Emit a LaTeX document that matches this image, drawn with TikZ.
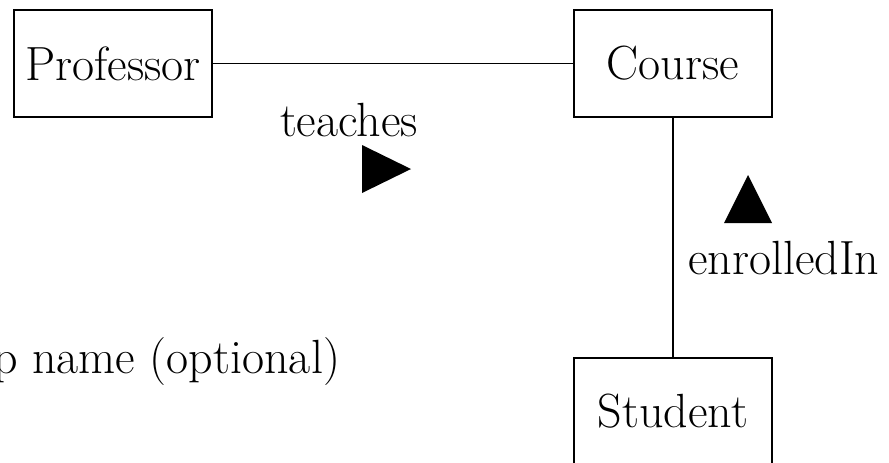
\documentclass[tikz,border=0pt]{standalone}
\begin{document}
\begin{tikzpicture}[x=0.5pt,y=-0.5pt,
  every node/.style={inner sep=0pt,outer sep=0pt,font=\fontsize{24}{29}\selectfont},
  entity/.style={draw,line width=0.7pt,minimum width=99pt,minimum height=53.5pt},
  link/.style={line width=0.7pt},
  marker/.style={fill=black}]
\useasboundingbox (0,0) rectangle (889,462);
% classes
\node[entity] (prof) at (113,63.5) {Professor};
\node[entity] (course) at (673,63.5) {Course};
\node[entity] (student) at (673,411.5) {Student};
% associations
\draw[link] (prof.east) -- (course.west);
\draw[link] (course.south) -- (student.north);
% association names with reading-direction markers
\node[anchor=base west] (teach) at (280,136.5) {teaches};
\fill[marker] (362,145) -- (411,169) -- (362,193) -- cycle;
\node[anchor=base west] (enrol) at (688,274) {enrolledIn};
\fill[marker] (724,223) -- (748,175) -- (772,223) -- cycle;
\node[anchor=base east] (optname) at (340,373) {p name (optional)};
\end{tikzpicture}
\end{document}
